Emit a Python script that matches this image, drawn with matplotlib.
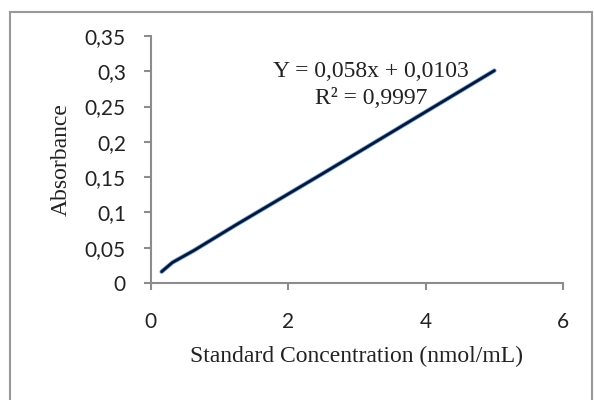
import matplotlib.pyplot as plt
from matplotlib.patches import Rectangle

# standard curve data
conc = [0.156, 0.3125, 0.625, 1.25, 2.5, 5.0]
absorb = [0.016, 0.029, 0.046, 0.083, 0.155, 0.301]
yticks = [0, 0.05, 0.1, 0.15, 0.2, 0.25, 0.3, 0.35]
ytick_labels = ['0', '0,05', '0,1', '0,15', '0,2', '0,25', '0,3', '0,35']
xticks = [0, 2, 4, 6]

fig = plt.figure(figsize=(5.94, 4), dpi=100)
ax = fig.add_axes([0.254, 0.2925, 0.694, 0.6175])

# light blue underlay, dark trendline on top
ax.plot(conc, absorb, color='#6fa8dc', lw=3.2, solid_capstyle='round')
ax.plot(conc, absorb, color='#0b1533', lw=2, solid_capstyle='round')

ax.set_xlim(0, 6)
ax.set_ylim(0, 0.35)
ax.set_xticks(xticks)
ax.set_yticks(yticks)
ax.set_yticklabels(ytick_labels)

for s in ['top', 'right']:
    ax.spines[s].set_visible(False)
for s in ['left', 'bottom']:
    ax.spines[s].set_color('#8c8c8c')
    ax.spines[s].set_linewidth(1.5)
ax.tick_params(direction='out', color='#8c8c8c', width=1.5, length=5,
               labelsize=15)
ax.tick_params(axis='x', pad=16)
ax.tick_params(axis='y', pad=13)
for lab in ax.get_xticklabels() + ax.get_yticklabels():
    lab.set_family('Lato')
    lab.set_color('#222222')

ax.set_xlabel('Standard Concentration (nmol/mL)', family='Liberation Serif',
              fontsize=17, labelpad=10, color='#222222')
ax.set_ylabel('Absorbance', family='Liberation Serif', fontsize=17,
              labelpad=9, color='#222222')

ax.text(3.2, 0.300, 'Y = 0,058x + 0,0103', family='Liberation Serif',
        fontsize=17, ha='center', va='center', color='#222222')
ax.text(3.2, 0.262, 'R² = 0,9997', family='Liberation Serif',
        fontsize=17, ha='center', va='center', color='#222222')

# chart area border
fig.patches.append(Rectangle((10 / 594, -0.1), 582 / 594, 1.1 - 12 / 400,
                             transform=fig.transFigure, fill=False,
                             edgecolor='#999999', lw=1.5))

fig.savefig('out.png', dpi=100)
